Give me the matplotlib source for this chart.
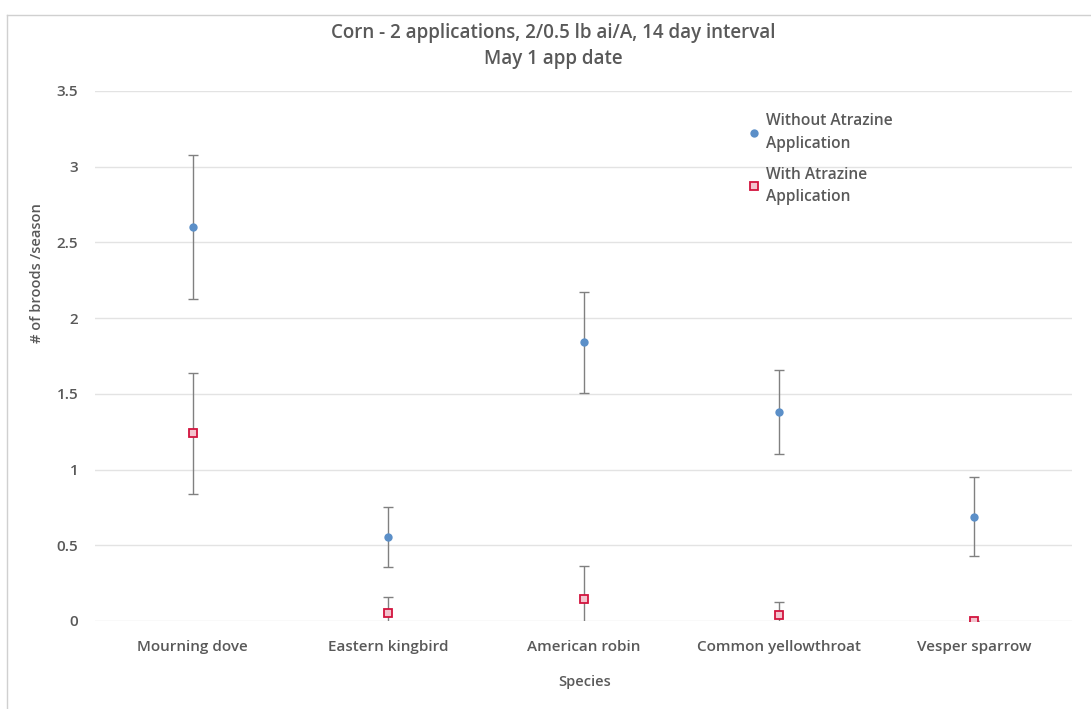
import matplotlib
matplotlib.use("Agg")
import matplotlib.pyplot as plt
import numpy as np

species = ["Mourning dove", "Eastern kingbird", "American robin",
           "Common yellowthroat", "Vesper sparrow"]
sans_atrazine = [2.60, 0.555, 1.84, 1.38, 0.69]
sans_err = [0.475, 0.20, 0.335, 0.28, 0.26]
avec_atrazine = [1.24, 0.05, 0.145, 0.04, 0.0]
avec_err = [0.40, 0.11, 0.215, 0.085, 0.0]
yticks = [0, 0.5, 1, 1.5, 2, 2.5, 3, 3.5]

gris = "#595959"
police = "Open Sans"

W, H = 1091, 709
fig = plt.figure(figsize=(W / 100, H / 100), dpi=100)
ax = fig.add_axes([95 / W, (H - 621) / H, 977 / W, 530 / H])

x = np.arange(len(species))

ax.errorbar(x, sans_atrazine, yerr=sans_err, fmt="none", ecolor="#808080",
            elinewidth=1, capsize=3.5, capthick=1, zorder=2)
ax.errorbar(x, avec_atrazine, yerr=avec_err, fmt="none", ecolor="#808080",
            elinewidth=1, capsize=3.5, capthick=1, zorder=2)
ax.plot(x, sans_atrazine, "o", color="#5B8FC8", markersize=6,
        markeredgewidth=0, zorder=3, label="Without Atrazine\nApplication")
ax.plot(x, avec_atrazine, "s", markerfacecolor="#F3C4CE", markeredgecolor="#D2143E",
        markersize=5.5, markeredgewidth=1.3, zorder=3, label="With Atrazine\nApplication")

ax.set_xlim(-0.5, len(species) - 0.5)
ax.set_ylim(0, 3.5)
ax.set_yticks(yticks)
ax.set_yticklabels([f"{t:g}" for t in yticks])
ax.set_xticks(x)
ax.set_xticklabels(species)
ax.grid(axis="y", color="#E3E3E3", linewidth=1)
ax.set_axisbelow(True)
for s in ax.spines.values():
    s.set_visible(False)
ax.tick_params(length=0, labelcolor=gris, labelsize=11)
ax.tick_params(axis="x", pad=14)
ax.tick_params(axis="y", pad=12)
for lab in ax.get_xticklabels() + ax.get_yticklabels():
    lab.set_fontfamily(police)
    lab.set_fontweight("semibold")

fig.text(553 / W, 1 - 33 / H, "Corn - 2 applications, 2/0.5 lb ai/A, 14 day interval",
         ha="center", va="center", fontsize=13.5, color=gris,
         fontfamily=police, fontweight="semibold")
fig.text(553 / W, 1 - 59 / H, "May 1 app date", ha="center", va="center",
         fontsize=13.5, color=gris, fontfamily=police, fontweight="semibold")
fig.text(37 / W, 1 - 273 / H, "# of broods /season", rotation=90, ha="center",
         va="center", fontsize=10.5, color=gris, fontfamily=police,
         fontweight="semibold")
fig.text(585 / W, 1 - 682 / H, "Species", ha="center", va="center",
         fontsize=10.5, color=gris, fontfamily=police, fontweight="semibold")

leg = ax.legend(loc="upper left", bbox_to_anchor=(648 / 977, 1 - 16 / 530),
                frameon=False, handlelength=0.6, handletextpad=0.5,
                labelspacing=0.95, borderaxespad=0,
                prop={"family": police, "weight": "semibold", "size": 11.2})
for t in leg.get_texts():
    t.set_color(gris)
    t.set_linespacing(1.55)

# cadre du graphique
fig.add_artist(plt.Line2D([7 / W, 7 / W], [0, 1 - 15 / H], transform=fig.transFigure,
                          color="#D0D0D0", linewidth=1))
fig.add_artist(plt.Line2D([7 / W, 1], [1 - 15 / H, 1 - 15 / H], transform=fig.transFigure,
                          color="#D0D0D0", linewidth=1))

fig.savefig("out.png", dpi=100, facecolor="white")
